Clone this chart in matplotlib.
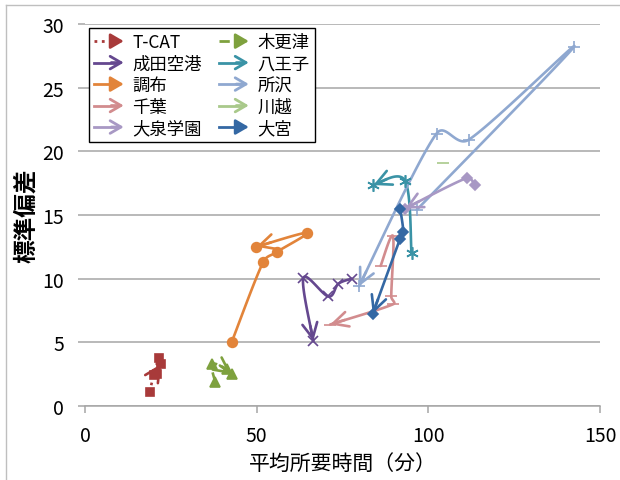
import numpy as np
import matplotlib.pyplot as plt
from matplotlib.lines import Line2D
from matplotlib.patches import FancyArrowPatch
from matplotlib.legend_handler import HandlerBase

plt.rcParams['font.family'] = ['Noto Sans CJK JP', 'DejaVu Sans']

# average travel time (min) and standard deviation, per origin
tcat_x = [18.8, 20.0, 21.5, 20.9, 22.2]
tcat_y = [1.1, 2.4, 3.8, 2.5, 3.3]
kisarazu_x = [37.9, 37.0, 41.3, 42.7]
kisarazu_y = [1.9, 3.3, 2.9, 2.5]
narita_x = [77.7, 73.8, 70.9, 63.6, 66.5]
narita_y = [10.0, 9.6, 8.6, 10.05, 5.1]
hachioji_x = [95.1, 93.2, 84.0]
hachioji_y = [12.0, 17.7, 17.35]
chofu_x = [42.7, 51.9, 55.9, 64.6, 49.9]
chofu_y = [5.0, 11.3, 12.1, 13.6, 12.5]
tokorozawa_x = [96.6, 142.4, 111.7, 102.4, 79.8]
tokorozawa_y = [15.4, 28.2, 20.9, 21.4, 9.4]
chiba_x = [86.1, 89.7, 89.2, 89.8, 71.4]
chiba_y = [11.0, 13.35, 8.6, 8.0, 6.4]
kawagoe_x = [104.2]
kawagoe_y = [19.1]
oizumi_x = [113.6, 111.2, 93.2]
oizumi_y = [17.35, 17.9, 15.5]
omiya_x = [91.8, 92.7, 91.8, 83.8]
omiya_y = [15.5, 13.7, 13.15, 7.25]

series = [
    ('T-CAT', tcat_x, tcat_y, '#A83A3A', ':', 's', 6, True),
    ('木更津', kisarazu_x, kisarazu_y, '#7EA13E', '--', '^', 7, True),
    ('成田空港', narita_x, narita_y, '#65488F', '-', 'x', 7, False),
    ('八王子', hachioji_x, hachioji_y, '#3A93A6', '-', (6, 2, 0), 9, False),
    ('調布', chofu_x, chofu_y, '#E2843A', '-', 'o', 7, True),
    ('所沢', tokorozawa_x, tokorozawa_y, '#8FA8D0', '-', '+', 8, False),
    ('千葉', chiba_x, chiba_y, '#D28C8E', '-', '_', 8, False),
    ('川越', kawagoe_x, kawagoe_y, '#A9C98B', '-', '_', 9, False),
    ('大泉学園', oizumi_x, oizumi_y, '#A898C4', '-', 'D', 5, False),
    ('大宮', omiya_x, omiya_y, '#3468A4', '-', 'D', 5, True),
]


def ctrl(p, tangent, seg_len):
    # Catmull-Rom control point, kept short on short segments
    v = tangent / 6
    n = np.hypot(*v)
    lim = 0.45 * seg_len
    if n > lim and n > 0:
        v = v * lim / n
    return p + v


def smooth(ax, xs, ys, n=30):
    # Bezier smoothing in screen space
    pts = ax.transData.transform(np.column_stack([xs, ys]))
    if len(pts) < 3:
        return pts
    out = [pts[0]]
    t = np.linspace(0, 1, n)[1:, None]
    last = len(pts) - 1
    for i in range(last):
        p0 = pts[max(i - 1, 0)]
        p1 = pts[i]
        p2 = pts[i + 1]
        p3 = pts[min(i + 2, last)]
        l12 = np.hypot(*(p2 - p1))
        c1 = ctrl(p1, p2 - p0, l12)
        c2 = ctrl(p2, p1 - p3, l12)
        seg = (1 - t) ** 3 * p1 + 3 * (1 - t) ** 2 * t * c1 + 3 * (1 - t) * t ** 2 * c2 + t ** 3 * p2
        out.extend(seg)
    return np.array(out)


class ArrowHandler(HandlerBase):
    def create_artists(self, legend, orig_handle, xdescent, ydescent, width, height, fontsize, trans):
        y = height / 2 - ydescent
        x0, x1 = -xdescent, width - xdescent
        filled = orig_handle.get_gid() == 'filled'
        line = Line2D([x0, x1 - 5], [y, y], color=orig_handle.get_color(),
                      lw=2, ls=orig_handle.get_linestyle(), transform=trans)
        style = '-|>,head_length=0.6,head_width=0.35' if filled else '->,head_length=0.6,head_width=0.35'
        arrow = FancyArrowPatch((x1 - 9, y), (x1, y), arrowstyle=style, mutation_scale=13,
                                color=orig_handle.get_color(), lw=2, transform=trans,
                                shrinkA=0, shrinkB=0)
        return [line, arrow]


fig = plt.figure(figsize=(6.2, 4.81), dpi=100)
ax = fig.add_axes([85 / 620, 1 - 407 / 481, 515 / 620, 382 / 481])
ax.set_xlim(0, 150)
ax.set_ylim(0, 30)

handles = {}
for name, xs, ys, color, ls, marker, ms, filled in series:
    pix = smooth(ax, xs, ys)
    curve = ax.transData.inverted().transform(pix)
    ax.plot(curve[:, 0], curve[:, 1], color=color, lw=1.9, ls=ls,
            solid_capstyle='round', zorder=3)
    ax.plot(xs, ys, ls='none', marker=marker, ms=ms, color=color,
            mec=color, mew=1.2, zorder=4)
    if len(xs) > 1:
        end = pix[-1]
        d = np.hypot(*(pix - end).T)
        far = np.where(d >= 14)[0]
        back = pix[far[-1]] if len(far) else pix[0]
        a, b = ax.transData.inverted().transform([back, end])
        ax.annotate('', xy=b, xytext=a,
                    arrowprops=dict(arrowstyle='->,head_length=0.6,head_width=0.3',
                                    color=color, lw=1.9, mutation_scale=18,
                                    shrinkA=0, shrinkB=0), zorder=4)
    h = Line2D([], [], color=color, ls=ls, label=name)
    h.set_gid('filled' if filled else 'open')
    handles[name] = h

ax.set_xticks([0, 50, 100, 150])
ax.set_yticks(np.arange(0, 31, 5))
ax.yaxis.grid(True, color='#A6A6A6', lw=1.1)
ax.set_axisbelow(True)
for s in ['top', 'right', 'left']:
    ax.spines[s].set_visible(False)
ax.spines['bottom'].set_color('#A6A6A6')
ax.spines['bottom'].set_linewidth(1.1)
ax.tick_params(axis='both', direction='out', length=5, width=1.1, color='#A6A6A6',
               labelsize=14, labelcolor='black')
ax.tick_params(axis='y', pad=10)
ax.tick_params(axis='x', pad=9)

ax.set_xlabel('平均所要時間（分）', fontsize=15, labelpad=4)
ax.set_ylabel('標準偏差', fontsize=17, fontweight='bold', labelpad=3)

order = ['T-CAT', '成田空港', '調布', '千葉', '大泉学園',
         '木更津', '八王子', '所沢', '川越', '大宮']
leg = ax.legend([handles[k] for k in order], order, ncol=2, loc='upper left',
                bbox_to_anchor=(89 / 620, 1 - 29 / 481), bbox_transform=fig.transFigure,
                borderaxespad=0, fontsize=12.5, handlelength=1.7, handletextpad=0.5,
                columnspacing=1.0, labelspacing=0.2, borderpad=0.3,
                frameon=True, fancybox=False, framealpha=1, edgecolor='black',
                handler_map={Line2D: ArrowHandler()})
leg.get_frame().set_linewidth(1.0)

# chart area border
fig.add_artist(Line2D([5.5 / 620, 5.5 / 620], [0, 1 - 6 / 481], color='#BFBFBF', lw=1,
                      transform=fig.transFigure))
fig.add_artist(Line2D([5.5 / 620, 1], [1 - 6 / 481, 1 - 6 / 481], color='#BFBFBF', lw=1,
                      transform=fig.transFigure))

fig.savefig('out.png', dpi=100)
